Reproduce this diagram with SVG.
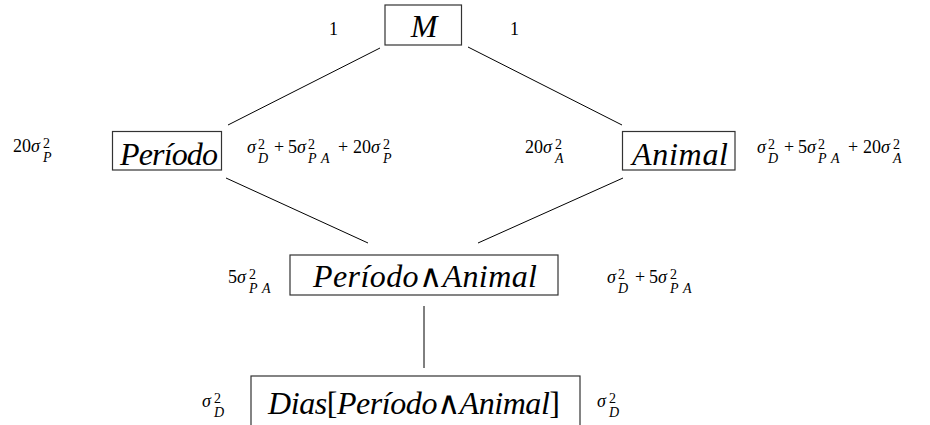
<svg xmlns="http://www.w3.org/2000/svg" width="930" height="425" viewBox="0 0 930 425">
<rect width="930" height="425" fill="#fff"/>
<g id="connectors" stroke="#000" stroke-width="1" fill="none">
<line x1="380" y1="48" x2="228" y2="125"/>
<line x1="468" y1="47" x2="622" y2="125"/>
<line x1="226" y1="178" x2="368" y2="243"/>
<line x1="623" y1="178" x2="478" y2="243"/>
<line x1="424" y1="306" x2="424" y2="368"/>
</g>
<g id="node-M">
<rect x="385" y="5" width="76.500" height="40" fill="none" stroke="#333" stroke-width="1.2"/>
<text font-family="Times New Roman, Liberation Serif, serif" font-style="italic" font-size="32" x="424" y="37" text-anchor="middle">M</text>
<text font-family="Times New Roman, Liberation Serif, serif" font-size="18" x="329" y="35">1</text>
<text font-family="Times New Roman, Liberation Serif, serif" font-size="18" x="510" y="35">1</text>
</g>
<g id="node-Periodo">
<rect x="112.500" y="131.500" width="109" height="38.500" fill="none" stroke="#333" stroke-width="1.2"/>
<text font-family="Times New Roman, Liberation Serif, serif" font-style="italic" font-size="32" x="120" y="165" textLength="98">Período</text>
<text font-family="Times New Roman, Liberation Serif, serif" font-size="18"><tspan x="13" y="152">20</tspan><tspan font-style="italic" x="31" y="152">σ</tspan><tspan font-size="14" x="43" y="148">2</tspan><tspan font-size="14" font-style="italic" x="43" y="162">P</tspan></text>
<text font-family="Times New Roman, Liberation Serif, serif" font-size="18"><tspan font-style="italic" x="247" y="153">σ</tspan><tspan font-size="14" x="258" y="149">2</tspan><tspan font-size="14" font-style="italic" x="258" y="163">D</tspan><tspan x="274" y="153">+</tspan><tspan x="288" y="153">5</tspan><tspan font-style="italic" x="297" y="153">σ</tspan><tspan font-size="14" x="308" y="149">2</tspan><tspan font-size="14" font-style="italic" x="308" y="163">P</tspan><tspan font-size="14" font-style="italic" x="321" y="163">A</tspan><tspan x="338" y="153">+</tspan><tspan x="353" y="153">20</tspan><tspan font-style="italic" x="371" y="153">σ</tspan><tspan font-size="14" x="383" y="149">2</tspan><tspan font-size="14" font-style="italic" x="383" y="163">P</tspan></text>
</g>
<g id="node-Animal">
<rect x="622.500" y="131.500" width="112.500" height="38.500" fill="none" stroke="#333" stroke-width="1.2"/>
<text font-family="Times New Roman, Liberation Serif, serif" font-style="italic" font-size="32" x="632" y="165" textLength="96">Animal</text>
<text font-family="Times New Roman, Liberation Serif, serif" font-size="18"><tspan x="525" y="153">20</tspan><tspan font-style="italic" x="543" y="153">σ</tspan><tspan font-size="14" x="555" y="149">2</tspan><tspan font-size="14" font-style="italic" x="555" y="163">A</tspan></text>
<text font-family="Times New Roman, Liberation Serif, serif" font-size="18"><tspan font-style="italic" x="757" y="153">σ</tspan><tspan font-size="14" x="768" y="149">2</tspan><tspan font-size="14" font-style="italic" x="768" y="163">D</tspan><tspan x="784" y="153">+</tspan><tspan x="798" y="153">5</tspan><tspan font-style="italic" x="807" y="153">σ</tspan><tspan font-size="14" x="818" y="149">2</tspan><tspan font-size="14" font-style="italic" x="818" y="163">P</tspan><tspan font-size="14" font-style="italic" x="831" y="163">A</tspan><tspan x="848" y="153">+</tspan><tspan x="863" y="153">20</tspan><tspan font-style="italic" x="881" y="153">σ</tspan><tspan font-size="14" x="893" y="149">2</tspan><tspan font-size="14" font-style="italic" x="893" y="163">A</tspan></text>
</g>
<g id="node-PeriodoAnimal">
<rect x="290" y="255" width="268" height="40" fill="none" stroke="#333" stroke-width="1.2"/>
<text font-family="Times New Roman, Liberation Serif, serif" font-style="italic" font-size="32" x="313" y="287" textLength="224">Período<tspan font-style="normal">∧</tspan>Animal</text>
<text font-family="Times New Roman, Liberation Serif, serif" font-size="18"><tspan x="228" y="283">5</tspan><tspan font-style="italic" x="237" y="283">σ</tspan><tspan font-size="14" x="249" y="279">2</tspan><tspan font-size="14" font-style="italic" x="249" y="293">P</tspan><tspan font-size="14" font-style="italic" x="262" y="293">A</tspan></text>
<text font-family="Times New Roman, Liberation Serif, serif" font-size="18"><tspan font-style="italic" x="607" y="283">σ</tspan><tspan font-size="14" x="618" y="279">2</tspan><tspan font-size="14" font-style="italic" x="618" y="293">D</tspan><tspan x="635" y="283">+</tspan><tspan x="649" y="283">5</tspan><tspan font-style="italic" x="658" y="283">σ</tspan><tspan font-size="14" x="670" y="279">2</tspan><tspan font-size="14" font-style="italic" x="670" y="293">P</tspan><tspan font-size="14" font-style="italic" x="683" y="293">A</tspan></text>
</g>
<g id="node-Dias">
<rect x="251" y="376" width="329" height="60" fill="none" stroke="#333" stroke-width="1.2"/>
<text font-family="Times New Roman, Liberation Serif, serif" font-style="italic" font-size="32" x="268" y="414" textLength="292">Dias<tspan font-style="normal">[</tspan>Período<tspan font-style="normal">∧</tspan>Animal<tspan font-style="normal">]</tspan></text>
<text font-family="Times New Roman, Liberation Serif, serif" font-size="18"><tspan font-style="italic" x="202" y="407">σ</tspan><tspan font-size="14" x="214" y="403">2</tspan><tspan font-size="14" font-style="italic" x="214" y="417">D</tspan></text>
<text font-family="Times New Roman, Liberation Serif, serif" font-size="18"><tspan font-style="italic" x="597" y="407">σ</tspan><tspan font-size="14" x="609" y="403">2</tspan><tspan font-size="14" font-style="italic" x="609" y="417">D</tspan></text>
</g>
</svg>
